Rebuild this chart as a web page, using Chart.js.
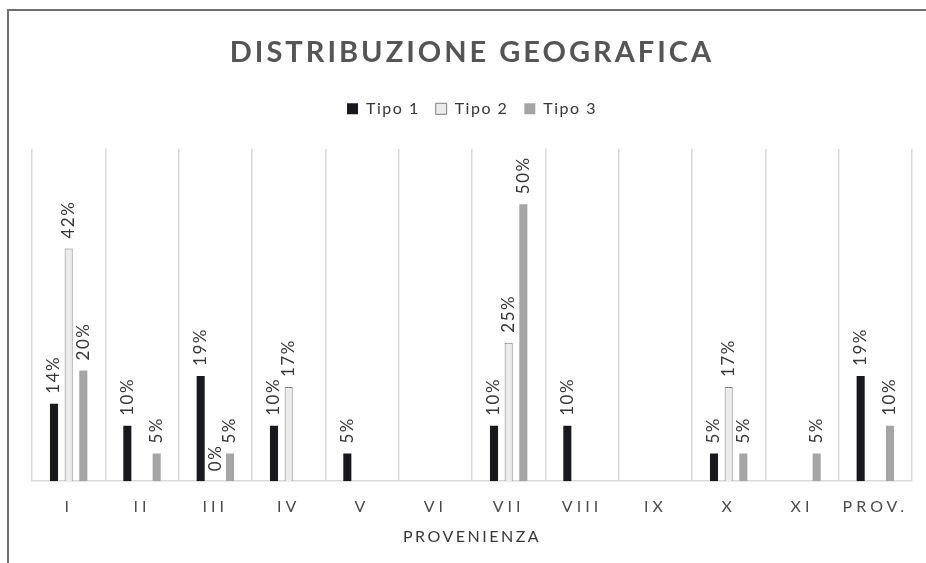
<!DOCTYPE html>
<html>
<head>
<meta charset="utf-8">
<script src="https://cdn.jsdelivr.net/npm/chart.js@4.4.0/dist/chart.umd.min.js"></script>
<style>
  body { margin: 0; background: #fff; }
  #wrap { position: relative; width: 926px; height: 563px; overflow: hidden; }
  #cornice { position: absolute; left: 7px; top: 9px; width: 940px; height: 580px;
             border-top: 2px solid #6f6f6f; border-left: 2px solid #6f6f6f; pointer-events: none; }
</style>
</head>
<body>
<div id="wrap">
  <canvas id="grafico" width="926" height="563"></canvas>
  <div id="cornice"></div>
</div>
<script>
// province di provenienza
const categorie = ['I', 'II', 'III', 'IV', 'V', 'VI', 'VII', 'VIII', 'IX', 'X', 'XI', 'PROV.'];
// percentuali per tipo (null = nessuna barra)
const tipo1 = [14, 10, 19, 10, 5, null, 10, 10, null, 5, null, 19];
const tipo2 = [42, null, 0, 17, null, null, 25, null, null, 17, null, null];
const tipo3 = [20, 5, 5, null, null, null, 50, null, null, 5, 5, 10];
const yMax = 60;

const FONT = 'Lato, "Open Sans", sans-serif';

// spaziatura lettere per titolo, legenda, assi + etichette ruotate sopra le barre
const etichette = {
  id: 'etichette',
  beforeLayout(chart) {
    const ctx = chart.ctx;
    ctx.letterSpacing = '1.5px';
    const leg = chart.legend;
    if (leg && !leg._spaziato) {
      leg._spaziato = true;
      const adatta = leg.fit;
      leg.fit = function () { adatta.call(this); this.height += 22; }; // spazio sotto la legenda
      const disegna = leg.draw;
      leg.draw = function () {
        ctx.save(); ctx.letterSpacing = '1.5px'; disegna.apply(this, arguments); ctx.restore();
      };
    }
    const tit = chart.titleBlock;
    if (tit && !tit._spaziato) {
      tit._spaziato = true;
      const disegna = tit.draw;
      tit.draw = function () {
        ctx.save(); ctx.letterSpacing = '3px'; disegna.apply(this, arguments); ctx.restore();
      };
    }
  },
  beforeDraw(chart) { chart.ctx.letterSpacing = '2.5px'; },
  afterDatasetsDraw(chart) {
    const ctx = chart.ctx;
    ctx.save();
    ctx.letterSpacing = '1.5px';
    ctx.font = '17px ' + FONT;
    ctx.fillStyle = '#363636';
    ctx.textAlign = 'left';
    ctx.textBaseline = 'middle';
    chart.data.datasets.forEach((ds, i) => {
      const meta = chart.getDatasetMeta(i);
      meta.data.forEach((bar, j) => {
        const v = ds.data[j];
        if (v === null || v === undefined) return;
        ctx.save();
        ctx.translate(bar.x, bar.y - 10);
        ctx.rotate(-Math.PI / 2);
        ctx.fillText(v + '%', 0, 0);
        ctx.restore();
      });
    });
    ctx.restore();
    // le etichette dell'asse x vengono disegnate dopo (ticks.z = 1)
    ctx.letterSpacing = '4px';
  },
  afterDraw(chart) { chart.ctx.letterSpacing = '0px'; }
};

new Chart(document.getElementById('grafico'), {
  type: 'bar',
  data: {
    labels: categorie,
    datasets: [
      { label: 'Tipo 1', data: tipo1, backgroundColor: '#17191c', borderWidth: 0 },
      { label: 'Tipo 2', data: tipo2, backgroundColor: '#ececec', borderColor: '#7f7f7f', borderWidth: 1 },
      { label: 'Tipo 3', data: tipo3, backgroundColor: '#a5a5a5', borderWidth: 0 }
    ]
  },
  options: {
    responsive: false,
    animation: false,
    layout: { padding: { left: 32, right: 14, top: 35, bottom: 21 } },
    datasets: { bar: { categoryPercentage: 0.6, barPercentage: 0.55 } },
    plugins: {
      title: {
        display: true,
        text: 'DISTRIBUZIONE GEOGRAFICA',
        color: '#555555',
        font: { family: FONT, size: 29, weight: 'bold' },
        padding: { top: 0, bottom: 15 }
      },
      legend: {
        display: true,
        labels: {
          color: '#363636',
          font: { family: FONT, size: 16 },
          boxWidth: 11,
          boxHeight: 11,
          padding: 16
        }
      },
      tooltip: { enabled: false }
    },
    scales: {
      x: {
        grid: { color: '#d9d9d9', lineWidth: 1.5, drawTicks: false, offset: true },
        border: { color: '#d9d9d9', width: 1.5 },
        ticks: { color: '#4a4a4a', font: { family: FONT, size: 16 }, padding: 16,
                 autoSkip: false, maxRotation: 0, z: 1 },
        title: { display: true, text: 'PROVENIENZA', color: '#363636',
                 font: { family: FONT, size: 16, lineHeight: 0.6 }, padding: 0 }
      },
      y: { display: false, min: 0, max: yMax }
    }
  },
  plugins: [etichette]
});
</script>
</body>
</html>
